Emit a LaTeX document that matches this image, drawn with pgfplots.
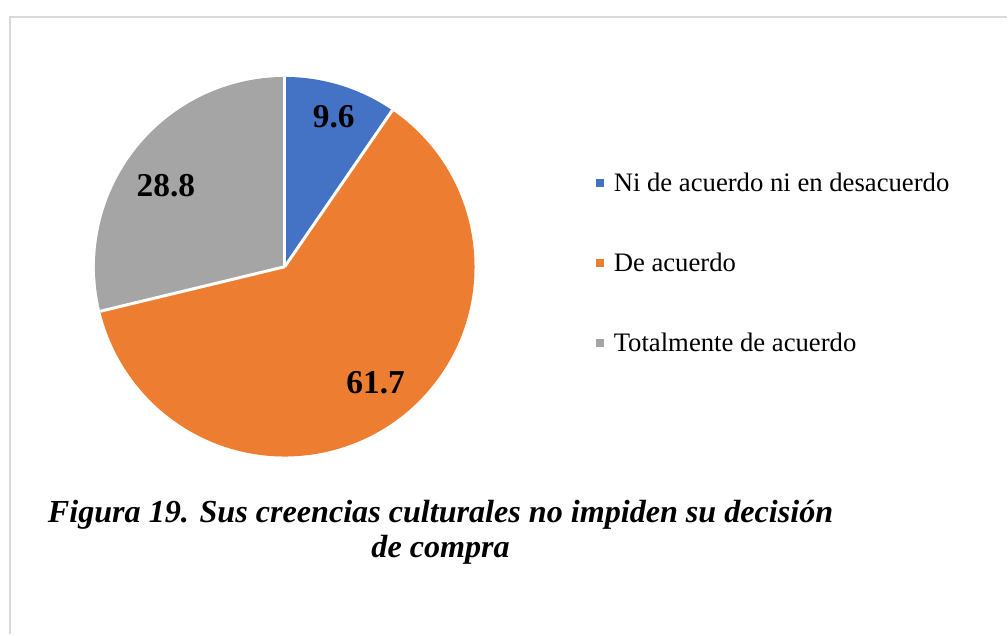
\documentclass[border=0pt]{standalone}
\usepackage{pgfplots}
\pgfplotsset{compat=1.18}
\usepackage{pgfplotstable}
\usepackage{fontspec}
\setmainfont{Liberation Serif}

\definecolor{pieblue}{HTML}{4472C4}
\definecolor{pieorange}{HTML}{ED7D31}
\definecolor{piegray}{HTML}{A5A5A5}
\definecolor{frame}{HTML}{D9D9D9}

\pgfplotstableread{
value
9.6
61.7
28.8
}\piedata

% slice angles, clockwise from 12 o'clock
\pgfplotstablegetelem{0}{value}\of\piedata \let\va\pgfplotsretval
\pgfplotstablegetelem{1}{value}\of\piedata \let\vb\pgfplotsretval
\pgfplotstablegetelem{2}{value}\of\piedata \let\vc\pgfplotsretval
\pgfmathsetmacro\tot{\va+\vb+\vc}
\pgfmathsetmacro\aA{90}
\pgfmathsetmacro\aB{\aA-360*(\va/\tot)}
\pgfmathsetmacro\aC{\aB-360*(\vb/\tot)}
\pgfmathsetmacro\aD{\aC-360*(\vc/\tot)}
\def\rad{3.8cm}

\begin{document}
\begin{tikzpicture}
\begin{axis}[
    hide axis,
    x=0.02cm, y=0.02cm,
    xmin=0, xmax=1008, ymin=0, ymax=635,
    clip=false,
]
\path (axis cs:0,0) rectangle (axis cs:1008,635);
\draw[frame, line width=1.1pt] (axis cs:10,0) -- (axis cs:10,618) -- (axis cs:1008,618);

% slices
\fill[pieblue]   (axis cs:285,368) -- ++(\aA:\rad) arc[start angle=\aA, end angle=\aB, radius=\rad] -- cycle;
\fill[pieorange] (axis cs:285,368) -- ++(\aB:\rad) arc[start angle=\aB, end angle=\aC, radius=\rad] -- cycle;
\fill[piegray]   (axis cs:285,368) -- ++(\aC:\rad) arc[start angle=\aC, end angle=\aD, radius=\rad] -- cycle;
\draw[white, line width=1.7pt] (axis cs:285,368) -- ++(\aA:\rad);
\draw[white, line width=1.7pt] (axis cs:285,368) -- ++(\aB:\rad);
\draw[white, line width=1.7pt] (axis cs:285,368) -- ++(\aC:\rad);

% value labels
\node[font=\fontsize{19}{22}\selectfont\bfseries] at (axis cs:334,518) {\va};
\node[font=\fontsize{19}{22}\selectfont\bfseries] at (axis cs:376,252) {\vb};
\node[font=\fontsize{19}{22}\selectfont\bfseries] at (axis cs:166,449) {\vc};

% legend
\fill[pieblue]   (axis cs:597,448) rectangle (axis cs:605,456);
\fill[pieorange] (axis cs:597,368) rectangle (axis cs:605,376);
\fill[piegray]   (axis cs:597,288) rectangle (axis cs:605,296);
\node[anchor=base west, inner sep=0pt, font=\fontsize{15.2}{18}\selectfont] at (axis cs:614,443) {Ni de acuerdo ni en desacuerdo};
\node[anchor=base west, inner sep=0pt, font=\fontsize{15.2}{18}\selectfont] at (axis cs:614,363) {De acuerdo};
\node[anchor=base west, inner sep=0pt, font=\fontsize{15.2}{18}\selectfont] at (axis cs:614,283) {Totalmente de acuerdo};

% caption
\node[anchor=base, inner sep=0pt, font=\fontsize{18.3}{22}\selectfont\bfseries\itshape] at (axis cs:441,112) {Figura 19. Sus creencias culturales no impiden su decisión};
\node[anchor=base, inner sep=0pt, font=\fontsize{18.3}{22}\selectfont\bfseries\itshape] at (axis cs:441,77) {de compra};
\end{axis}
\end{tikzpicture}
\end{document}
